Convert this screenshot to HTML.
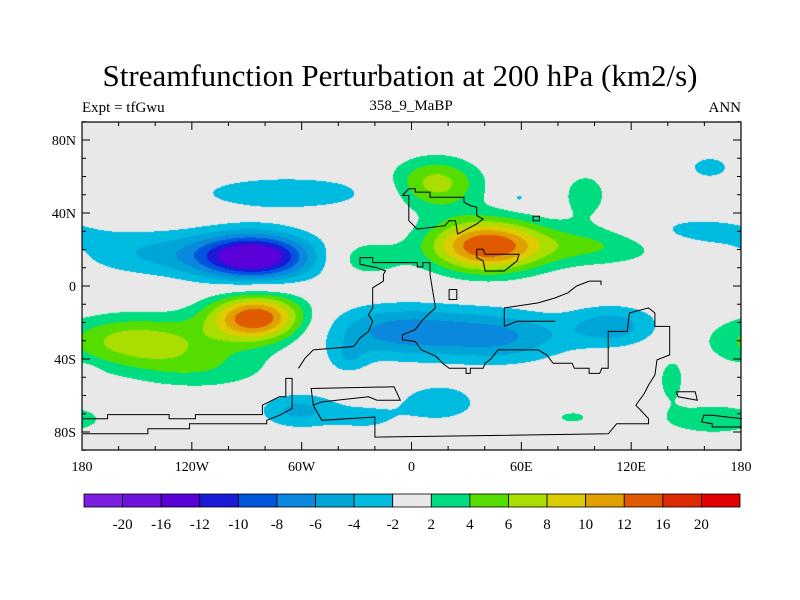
<!DOCTYPE html>
<html><head><meta charset="utf-8"><style>
body{margin:0;background:#fff;width:800px;height:600px;overflow:hidden;position:relative;font-family:"Liberation Serif",serif}
.t{position:absolute;white-space:nowrap;color:#000}
</style></head><body>
<div class="t" style="left:0;width:800px;text-align:center;top:58px;font-size:31px">Streamfunction Perturbation at 200 hPa (km2/s)</div>
<div class="t" style="left:82px;top:100px;font-size:15px">Expt = tfGwu</div>
<div class="t" style="left:311px;width:200px;text-align:center;top:98px;font-size:15px">358_9_MaBP</div>
<div class="t" style="right:59px;top:100px;font-size:15px">ANN</div>
<canvas id="cv" width="659" height="328" style="position:absolute;left:82px;top:122px"></canvas>
<svg id="sv" width="800" height="600" style="position:absolute;left:0;top:0"></svg>
<script>
const levels=[-20,-16,-12,-10,-8,-6,-4,-2,2,4,6,8,10,12,16,20];
const colors=['#7d1fe0','#7012dd','#5a00d8','#1a1ad8','#0055dd','#0a88dd','#00a5d8','#00bbe0','#e8e8e8','#00dd80','#55dd00','#aadd00','#ddcc00','#e0a000','#e05a00','#dd2a00','#e00000'];
const lonTicks=[-180,-120,-60,0,60,120,180];
const lonLabels=['180','120W','60W','0','60E','120E','180'];
const latTicks=[80,40,0,-40,-80];
const latLabels=['80N','40N','0','40S','80S'];
// perturbation centres: lon, lat, amplitude, width lon, width lat
const blobLon=[-86,-140,-85,-150,-115,41,100,95,-25,13.5,-68,163,155,-5,50,110,-35,-62,15,165,142,88,58.7,180,-25];
const blobLat=[16,18,-17.5,-30,-45,22,22,50,15,56,51,65,30,-25,-28,-22,-40,-68,-64,-73,-52,-72,48,-48,-72];
const blobAmp=[-15,-4,14,7,3.2,14,4,3,3.5,7,-3.5,-3,-3,-7,-5.5,-5,-2.8,-4.5,-3.8,3.8,2.8,2.6,-2.6,-2.8,-2.5];
const blobSx=[22,30,18,30,30,22,28,10,14,17,38,9,25,30,25,18,8,15,15,20,6,8,4,5,15];
const blobSy=[9,9,9,10,9,10,8,10,7,10,7,5,6,10,10,8,6,7,7,6,10,3,3,3,6];
const W=659,H=328,X0=82,Y0=122;
function xOf(lon){return X0+(lon+180)/360*W;}
function yOf(lat){return 286-lat*1.825;}
function field(lon,lat){let s=0;for(let i=0;i<blobAmp.length;i++){let dl=lon-blobLon[i];dl=((dl+540)%360)-180;const a=dl/blobSx[i],b=(lat-blobLat[i])/blobSy[i];s+=blobAmp[i]*Math.exp(-0.5*(a*a+b*b));}return s;}
function hex(c){return [parseInt(c.substr(1,2),16),parseInt(c.substr(3,2),16),parseInt(c.substr(5,2),16)];}
const rgb=colors.map(hex);
const ctx=document.getElementById('cv').getContext('2d');
const img=ctx.createImageData(W,H);
for(let py=0;py<H;py++){const lat=(286-(Y0+py+0.5))/1.825;for(let px=0;px<W;px++){const lon=(px+0.5)/W*360-180;const v=field(lon,lat);let k=0;while(k<levels.length&&v>=levels[k])k++;const c=rgb[k];const o=(py*W+px)*4;img.data[o]=c[0];img.data[o+1]=c[1];img.data[o+2]=c[2];img.data[o+3]=255;}}
ctx.putImageData(img,0,0);
const NS='http://www.w3.org/2000/svg';
const sv=document.getElementById('sv');
function mk(t,a){const e=document.createElementNS(NS,t);for(const k in a)e.setAttribute(k,a[k]);sv.appendChild(e);return e;}
const coast=[
[[7,890],[65,890],[65,878],[210,878],[210,890],[272,890],[272,878],[430,878],[430,850],[470,825],[485,825],[485,770],[500,770],[500,860],[470,880],[440,895],[440,905],[258,905],[258,920],[160,920],[160,935],[7,935]],
[[515,740],[530,710],[550,685],[645,675],[660,650],[680,630],[690,600],[680,580],[690,560],[690,500],[715,480],[715,460],[720,450],[700,440],[660,430],[660,410],[690,410],[690,425],[795,425],[795,438],[808,438],[808,425],[825,425],[825,460],[838,560],[820,580],[805,600],[790,625],[760,640],[760,655],[790,660],[805,685],[840,705],[855,725],[870,740],[910,740],[910,755],[920,755],[920,740],[950,740],[955,725],[970,710],[985,685],[1080,685],[1100,700],[1115,725],[1160,725],[1165,740],[1200,740],[1200,755],[1225,755],[1230,740],[1245,740],[1245,630],[1290,630],[1295,575],[1340,560],[1355,575],[1355,615],[1390,615],[1390,700],[1360,715],[1355,760],[1340,790],[1330,815],[1310,850],[1325,870],[1340,890],[1340,905],[1265,905],[1245,935],[695,945],[695,885],[570,895],[550,850],[545,800],[740,795],[755,835],[700,835],[680,825],[570,840],[550,850]],
[[775,300],[775,225],[760,225],[775,205],[790,205],[790,215],[825,215],[825,230],[905,230],[905,245],[920,255],[935,260],[935,285],[950,295],[935,310],[905,330],[890,340],[885,300],[870,300],[860,315],[795,325],[775,300]],
[[935,385],[950,385],[955,400],[1035,400],[1030,420],[1000,450],[955,450],[950,420],[935,410],[935,385]],
[[870,505],[888,505],[888,535],[870,535],[870,505]],
[[1068,287],[1083,287],[1083,300],[1068,300],[1068,287]],
[[1000,615],[1000,560],[1080,545],[1120,530],[1150,515],[1170,495],[1200,480],[1228,480],[1228,492]],
[[1000,615],[1030,600],[1120,600]],
[[1405,810],[1450,810],[1455,835],[1410,825],[1405,810]],
[[1560,890],[1490,880],[1470,880],[1465,900],[1490,905],[1490,915],[1560,915]]
];
coast.forEach((c,i)=>{const p=mk('polyline',{points:c.map(q=>(80+q[0]/2.357).toFixed(1)+','+(120+q[1]/2.98).toFixed(1)).join(' '),fill:'none',stroke:'#000','stroke-width':1});

});
const fr=mk('rect',{x:X0,y:Y0,width:W,height:H,fill:'none',stroke:'#000','stroke-width':1.2});


for(let lon=-180;lon<=180;lon+=20){const x=xOf(lon),L=(lon%60===0)?8:4;mk('line',{x1:x,x2:x,y1:Y0,y2:Y0+L,stroke:'#000'});mk('line',{x1:x,x2:x,y1:Y0+H,y2:Y0+H-L,stroke:'#000'});}
for(let lat=-90;lat<=90;lat+=10){const y=yOf(lat),L=(lat%40===0)?8:4;mk('line',{x1:X0,x2:X0+L,y1:y,y2:y,stroke:'#000'});mk('line',{x1:X0+W,x2:X0+W-L,y1:y,y2:y,stroke:'#000'});}
lonTicks.forEach((v,i)=>{const t=mk('text',{x:xOf(v),y:471,'text-anchor':'middle','font-size':14,'font-family':'Liberation Serif,serif'});t.textContent=lonLabels[i];

});
latTicks.forEach((v,i)=>{const t=mk('text',{x:76,y:yOf(v)+5,'text-anchor':'end','font-size':14,'font-family':'Liberation Serif,serif'});t.textContent=latLabels[i];

});
const cbX=84,cbW=656,cbY=494,cbH=13,bw=cbW/colors.length;
colors.forEach((c,i)=>{const r=mk('rect',{x:cbX+i*bw,y:cbY,width:bw,height:cbH,fill:c,stroke:'#000','stroke-width':0.8});

});
levels.forEach((v,i)=>{const t=mk('text',{x:cbX+(i+1)*bw,y:529,'text-anchor':'middle','font-size':15,'font-family':'Liberation Serif,serif'});t.textContent=v;

});
</script>
</body></html>
